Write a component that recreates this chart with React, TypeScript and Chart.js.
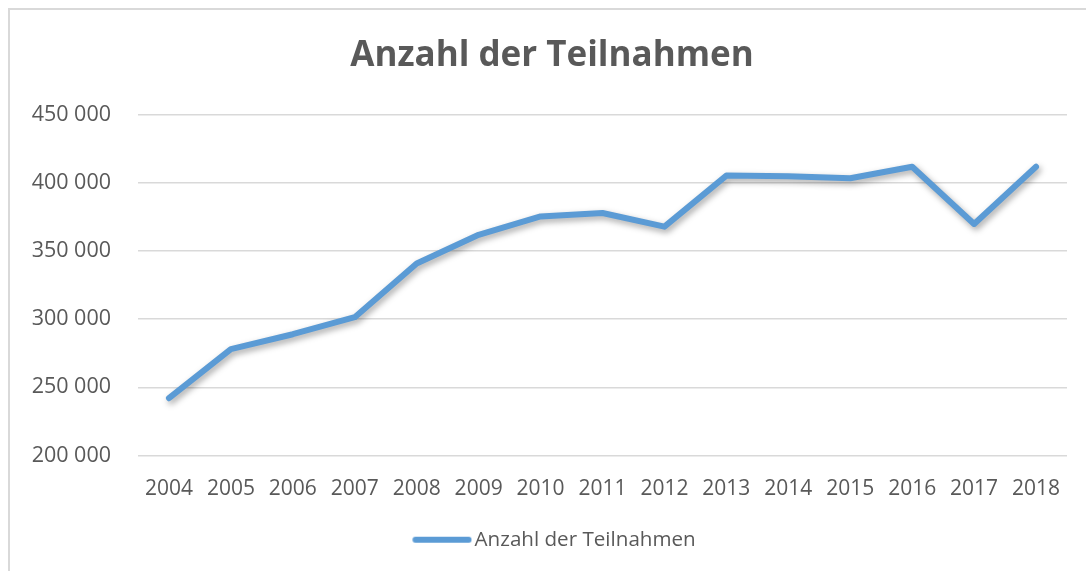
import React, { useEffect, useRef } from "react";
import { Chart, registerables } from "chart.js";

Chart.register(...registerables);

const years = ["2004", "2005", "2006", "2007", "2008", "2009", "2010", "2011", "2012", "2013", "2014", "2015", "2016", "2017", "2018"];
const participations = [242000, 278000, 289000, 301500, 341000, 362000, 375500, 378000, 368000, 405500, 405000, 403500, 412000, 370000, 412000];
const yMin = 200000;
const yMax = 450000;
const yStep = 50000;
const seriesLabel = "Anzahl der Teilnahmen";
const titleText = "Anzahl der Teilnahmen";
const lineColor = "#5B9BD5";

const fmt = (v: number) => String(v).replace(/\B(?=(\d{3})+(?!\d))/g, " ");

const shadowPlugin = {
  id: "lineShadow",
  afterLayout(chart: any) {
    // let the y tick labels extend into the left padding without being clipped
    if (chart.scales.y) chart.scales.y.left = 0;
  },
  beforeDatasetDraw(chart: any) {
    const ctx = chart.ctx;
    ctx.save();
    ctx.shadowColor = "rgba(0,0,0,0.35)";
    ctx.shadowBlur = 6;
    ctx.shadowOffsetX = 2;
    ctx.shadowOffsetY = 3;
  },
  afterDatasetDraw(chart: any) {
    chart.ctx.restore();
  },
};

function makeLegendMarker(): HTMLCanvasElement {
  const c = document.createElement("canvas");
  c.width = 72;
  c.height = 8;
  const g = c.getContext("2d") as CanvasRenderingContext2D;
  g.strokeStyle = lineColor;
  g.lineWidth = 6;
  g.lineCap = "round";
  g.beginPath();
  g.moveTo(15.2, 4);
  g.lineTo(68.3, 4);
  g.stroke();
  return c;
}

export default function App() {
  const ref = useRef<HTMLCanvasElement | null>(null);
  useEffect(() => {
    document.body.style.margin = "0";
    const font = "'Open Sans', sans-serif";
    const marker = makeLegendMarker();
    const chart = new Chart(ref.current as HTMLCanvasElement, {
      type: "line",
      data: {
        labels: years,
        datasets: [
          {
            label: seriesLabel,
            data: participations,
            borderColor: lineColor,
            backgroundColor: lineColor,
            borderWidth: 6,
            borderCapStyle: "round",
            borderJoinStyle: "round",
            pointRadius: 0,
            pointHoverRadius: 0,
            tension: 0,
            fill: false,
          },
        ],
      },
      options: {
        animation: false,
        responsive: false,
        maintainAspectRatio: false,
        layout: { padding: { left: 28, right: 28, top: 0, bottom: 20 } },
        plugins: {
          title: {
            display: true,
            text: titleText,
            color: "#595959",
            font: { family: font, size: 35, weight: "bold" },
            padding: { top: 26.5, bottom: 37.5 },
          },
          legend: {
            display: true,
            position: "bottom",
            labels: {
              color: "#595959",
              font: { family: font, size: 20.6 },
              usePointStyle: true,
              pointStyle: marker as any,
              boxWidth: 56,
              boxHeight: 6,
              pointStyleWidth: 56,
              padding: 10,
            },
          },
          tooltip: { enabled: false },
        },
        scales: {
          x: {
            offset: true,
            afterFit: (scale: any) => {
              scale.height = 64;
            },
            grid: { display: false, drawTicks: false },
            border: { display: false },
            ticks: {
              color: "#595959",
              font: { family: font, size: 21 },
              padding: 21,
              maxRotation: 0,
              autoSkip: false,
            },
          },
          y: {
            min: yMin,
            max: yMax,
            afterFit: (scale: any) => {
              scale.width = 101;
            },
            grid: { color: "#d9d9d9", lineWidth: 1.5, drawTicks: false },
            border: { display: false },
            ticks: {
              stepSize: yStep,
              color: "#595959",
              font: { family: font, size: 21.5 },
              padding: 27,
              callback: (v: any) => fmt(Number(v)),
            },
          },
        },
      },
      plugins: [shadowPlugin],
    });
    return () => chart.destroy();
  }, []);
  return (
    <div style={{ position: "relative", width: 1086, height: 571, overflow: "hidden", background: "#fff" }}>
      <div
        style={{
          position: "absolute",
          left: 8,
          top: 8,
          width: 1100,
          height: 600,
          borderLeft: "2px solid #d9d9d9",
          borderTop: "2px solid #d9d9d9",
          boxSizing: "border-box",
        }}
      />
      <canvas ref={ref} width={1086} height={571} style={{ position: "absolute", left: 9, top: 9, width: 1086, height: 571 }} />
    </div>
  );
}
